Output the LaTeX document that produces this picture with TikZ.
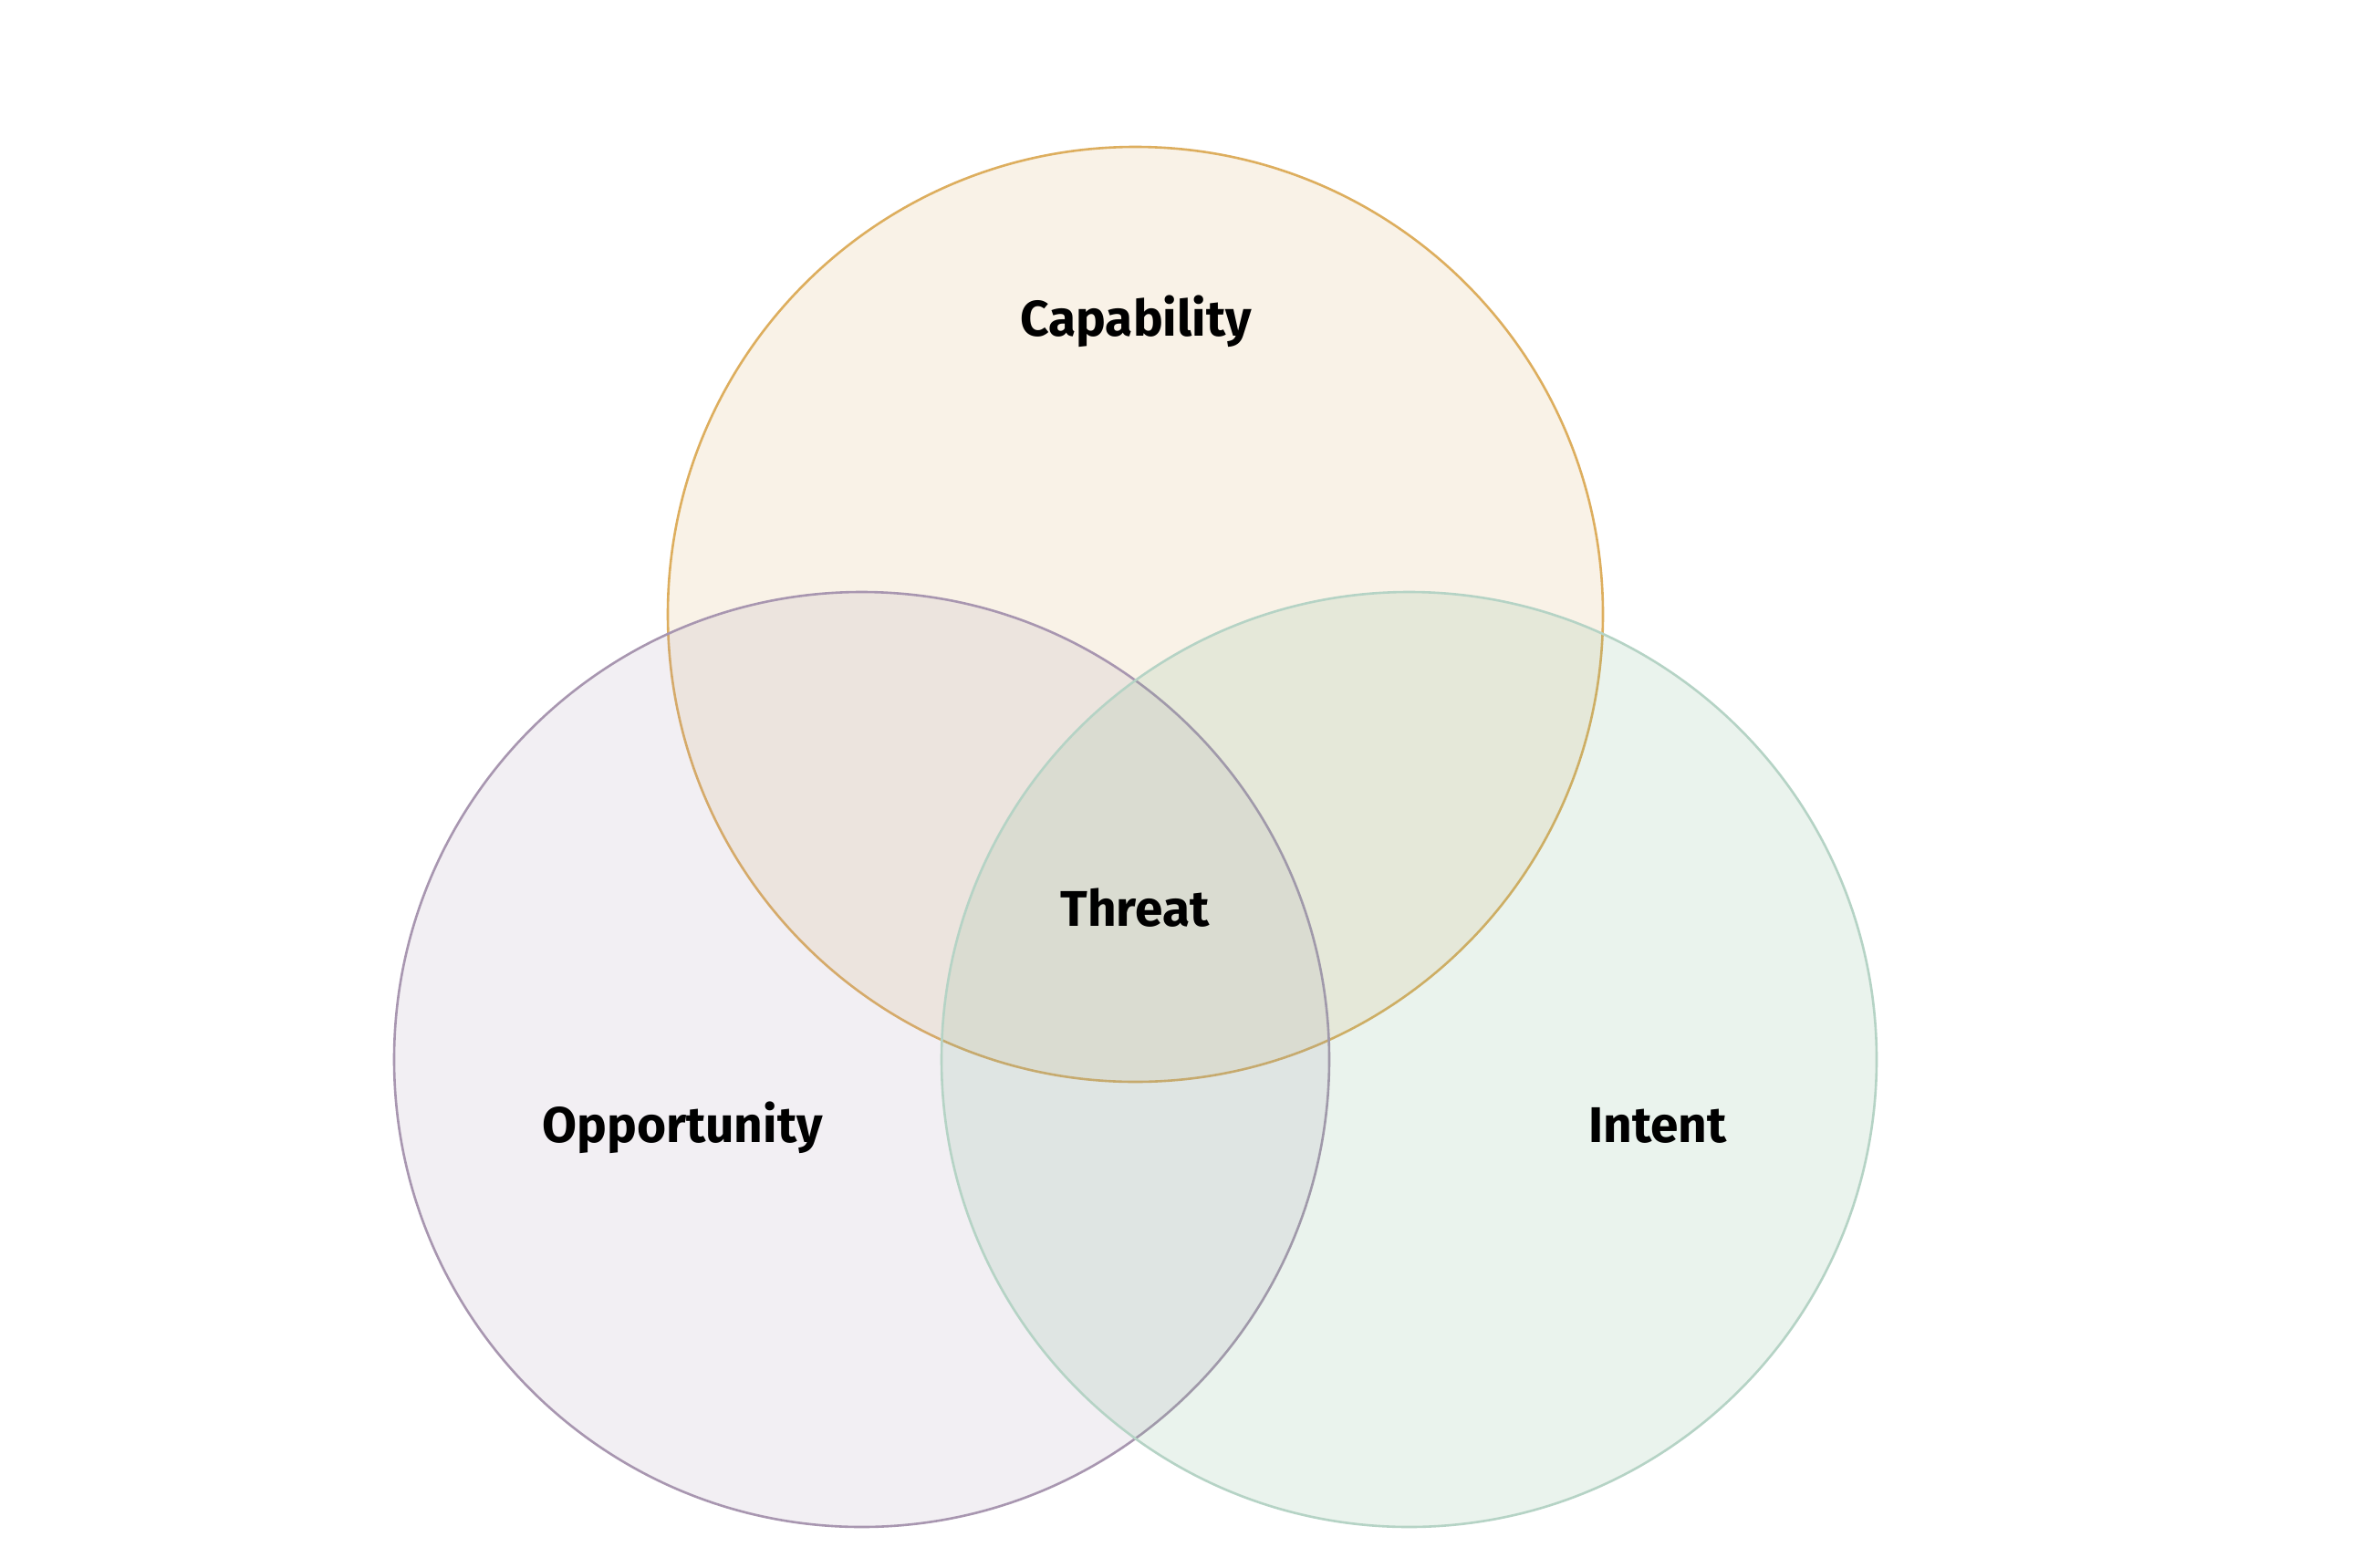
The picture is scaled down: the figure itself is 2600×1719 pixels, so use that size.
\documentclass[tikz,border=0pt]{standalone}
\usepackage{fontspec}
\setmainfont{Fira Sans}
\definecolor{capline}{RGB}{221,174,94}
\definecolor{oppline}{RGB}{168,150,176}
\definecolor{intline}{RGB}{118,175,138}
\definecolor{intstroke}{RGB}{181,211,197}
\begin{document}
\begin{tikzpicture}[x=1pt,y=-1pt,
  venn/.style={line width=2.6pt, fill opacity=0.15},
  lbl/.style={anchor=base, inner sep=0pt, font=\fontsize{55}{60}\selectfont\bfseries, text=black}]
\useasboundingbox (0,0) rectangle (2600,1719);
\fill[white] (0,0) rectangle (2600,1719);
\draw[venn, draw=capline, fill=capline] (1244.5,673.5) circle[radius=512.5];
\draw[venn, draw=oppline, fill=oppline] (944.5,1161.5) circle[radius=512.5];
\draw[venn, draw=intstroke, fill=intline] (1544.5,1161.5) circle[radius=512.5];
\node[lbl] (cap) at (1245,368) {Capability};
\node[lbl] (thr) at (1244,1015) {Threat};
\node[lbl] (opp) at (748,1252) {Opportunity};
\node[lbl] (int) at (1817,1252) {Intent};
\end{tikzpicture}
\end{document}
